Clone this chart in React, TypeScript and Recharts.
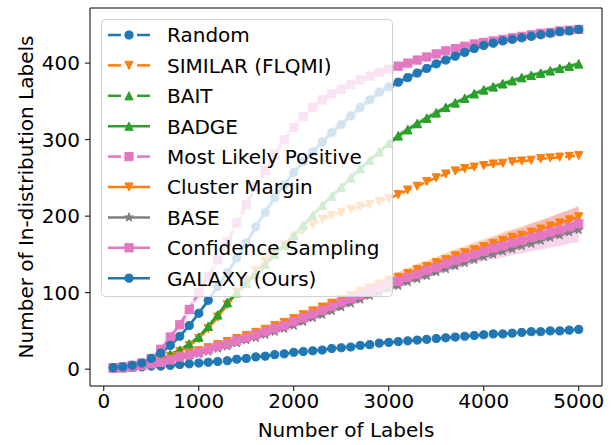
import { Area, ComposedChart, Label, Line, ReferenceLine, XAxis, YAxis } from "recharts";

// number of labels queried (x)
const labels = [
  100, 200, 300, 400, 500, 600, 700, 800, 900, 1000,
  1100, 1200, 1300, 1400, 1500, 1600, 1700, 1800, 1900, 2000,
  2100, 2200, 2300, 2400, 2500, 2600, 2700, 2800, 2900, 3000,
  3100, 3200, 3300, 3400, 3500, 3600, 3700, 3800, 3900, 4000,
  4100, 4200, 4300, 4400, 4500, 4600, 4700, 4800, 4900, 5000
];

const random = [
  2, 2, 3, 3, 4, 4, 5, 6, 7, 8,
  9, 10, 11, 13, 14, 16, 17, 19, 20, 22,
  23, 24, 25, 27, 28, 29, 31, 32, 34, 35,
  36, 37, 38, 39, 40, 41, 42, 43, 44, 45,
  46, 46, 47, 48, 49, 49, 50, 50, 51, 52
];
const similar = [
  1, 2, 3, 4, 7, 11, 17, 23, 31, 40,
  53, 68, 84, 100, 115, 129, 141, 152, 162, 172,
  181, 189, 196, 201, 205, 209, 212, 215, 219, 223,
  228, 234, 239, 245, 250, 255, 259, 262, 264, 266,
  268, 269, 271, 272, 273, 275, 276, 277, 278, 279
];
const bait = [
  1, 2, 3, 5, 8, 13, 19, 25, 33, 42,
  56, 71, 87, 100, 112, 124, 137, 150, 162, 175,
  188, 201, 214, 226, 238, 250, 262, 273, 284, 295,
  305, 313, 321, 328, 335, 342, 348, 354, 360, 365,
  369, 373, 377, 381, 384, 387, 390, 393, 396, 399
];
const badge = [
  1, 2, 3, 5, 8, 13, 19, 25, 33, 42,
  56, 71, 87, 100, 112, 124, 137, 150, 162, 175,
  188, 201, 214, 226, 238, 250, 262, 273, 284, 295,
  305, 313, 321, 328, 335, 342, 348, 354, 360, 365,
  369, 373, 377, 381, 384, 387, 390, 393, 396, 399
];
const mostLikely = [
  2, 3, 5, 8, 14, 26, 42, 58, 78, 100,
  121, 143, 166, 191, 215, 238, 260, 281, 300, 316,
  330, 342, 352, 360, 366, 372, 378, 383, 388, 392,
  396, 400, 404, 408, 412, 416, 419, 422, 425, 427,
  429, 431, 433, 435, 437, 439, 440, 442, 443, 444
];
const clusterMargin = [
  1, 2, 3, 5, 7, 10, 13, 17, 21, 24,
  28, 32, 36, 40, 44, 48, 52, 57, 61, 66,
  71, 76, 81, 86, 91, 96, 101, 106, 111, 116,
  120, 125, 130, 134, 139, 143, 148, 152, 156, 160,
  164, 168, 172, 175, 179, 183, 187, 191, 195, 199
];
const base = [
  1, 2, 3, 4, 6, 8, 11, 14, 17, 20,
  23, 27, 30, 34, 38, 41, 45, 49, 53, 57,
  62, 67, 71, 76, 81, 86, 91, 96, 100, 105,
  109, 114, 118, 122, 127, 131, 135, 139, 143, 147,
  150, 154, 157, 161, 164, 168, 172, 175, 179, 182
];
const confidence = [
  1, 2, 3, 5, 7, 9, 12, 16, 19, 22,
  26, 30, 33, 37, 41, 45, 49, 53, 57, 62,
  67, 72, 77, 82, 87, 92, 97, 102, 107, 111,
  115, 120, 124, 129, 133, 138, 142, 146, 150, 154,
  158, 161, 165, 168, 172, 175, 179, 182, 186, 190
];
const galaxy = [
  2, 3, 5, 8, 14, 21, 31, 43, 57, 73,
  90, 108, 126, 145, 165, 186, 205, 224, 241, 257,
  271, 284, 297, 309, 320, 331, 342, 352, 362, 369,
  375, 381, 387, 393, 399, 404, 409, 414, 419, 423,
  426, 429, 431, 433, 435, 437, 439, 441, 442, 444
];

// spread (std) around the means
const confidenceStd = [
  0, 0, 1, 1, 1, 1, 1, 2, 2, 2,
  2, 2, 3, 3, 3, 3, 3, 4, 4, 4,
  4, 5, 5, 5, 5, 6, 6, 6, 6, 7,
  7, 8, 8, 9, 10, 10, 11, 12, 12, 13,
  14, 15, 16, 17, 18, 19, 20, 21, 22, 24
];
const clusterMarginStd = [
  0, 0, 0, 1, 1, 1, 1, 1, 2, 2,
  2, 2, 2, 3, 3, 3, 3, 3, 4, 4,
  4, 4, 5, 5, 5, 5, 6, 6, 6, 7,
  7, 7, 8, 8, 8, 9, 9, 9, 10, 10,
  10, 11, 11, 11, 12, 12, 12, 13, 13, 13
];
const baseStd = [
  0, 0, 0, 0, 1, 1, 1, 1, 1, 1,
  1, 2, 2, 2, 2, 2, 2, 2, 2, 2,
  3, 3, 3, 3, 3, 3, 3, 3, 3, 3,
  3, 3, 3, 3, 3, 3, 3, 3, 3, 3,
  3, 3, 3, 3, 3, 3, 3, 3, 3, 3
];
const galaxyStd = [
  0, 0, 1, 1, 1, 2, 2, 3, 3, 3,
  4, 4, 4, 5, 5, 5, 5, 5, 5, 5,
  5, 5, 5, 5, 5, 5, 5, 5, 5, 5,
  4, 4, 4, 4, 4, 3, 3, 3, 3, 3,
  3, 3, 2, 2, 2, 2, 2, 2, 2, 2
];
const mostLikelyStd = [
  0, 0, 1, 1, 2, 3, 4, 5, 5, 6,
  6, 6, 6, 6, 6, 6, 6, 6, 6, 5,
  5, 5, 5, 5, 4, 4, 4, 4, 4, 4,
  3, 3, 3, 3, 3, 3, 3, 3, 3, 3,
  2, 2, 2, 2, 2, 2, 2, 2, 2, 2
];
const badgeStd = [
  0, 0, 0, 1, 1, 1, 2, 2, 2, 3,
  3, 3, 3, 4, 4, 4, 4, 4, 4, 4,
  4, 4, 4, 4, 4, 4, 4, 4, 4, 4,
  4, 4, 4, 4, 4, 3, 3, 3, 3, 3,
  3, 3, 3, 3, 3, 3, 3, 3, 3, 3
];

const xTicks = [0, 1000, 2000, 3000, 4000, 5000];
const yTicks = [0, 100, 200, 300, 400];

const BLUE = "#1f77b4";
const ORANGE = "#ff7f0e";
const GREEN = "#2ca02c";
const PINK = "#e377c2";
const GRAY = "#7f7f7f";
const FONT = "'DejaVu Sans', sans-serif";

type Shape = "circle" | "square" | "up" | "down" | "star";

const series: { key: string; name: string; values: number[]; color: string; shape: Shape; dashed: boolean }[] = [
  { key: "random", name: "Random", values: random, color: BLUE, shape: "circle", dashed: true },
  { key: "similar", name: "SIMILAR (FLQMI)", values: similar, color: ORANGE, shape: "down", dashed: true },
  { key: "bait", name: "BAIT", values: bait, color: GREEN, shape: "up", dashed: true },
  { key: "badge", name: "BADGE", values: badge, color: GREEN, shape: "up", dashed: false },
  { key: "mlp", name: "Most Likely Positive", values: mostLikely, color: PINK, shape: "square", dashed: true },
  { key: "cm", name: "Cluster Margin", values: clusterMargin, color: ORANGE, shape: "down", dashed: false },
  { key: "base", name: "BASE", values: base, color: GRAY, shape: "star", dashed: false },
  { key: "cs", name: "Confidence Sampling", values: confidence, color: PINK, shape: "square", dashed: false },
  { key: "galaxy", name: "GALAXY (Ours)", values: galaxy, color: BLUE, shape: "circle", dashed: false }
];

const bands = [
  { key: "badgeBand", mean: badge, std: badgeStd, color: GREEN },
  { key: "mlpBand", mean: mostLikely, std: mostLikelyStd, color: PINK },
  { key: "cmBand", mean: clusterMargin, std: clusterMarginStd, color: ORANGE },
  { key: "baseBand", mean: base, std: baseStd, color: GRAY },
  { key: "csBand", mean: confidence, std: confidenceStd, color: PINK },
  { key: "galaxyBand", mean: galaxy, std: galaxyStd, color: BLUE }
];

const rows = labels.map((x, i) => {
  const row: any = { x };
  series.forEach((s) => (row[s.key] = s.values[i]));
  bands.forEach((b) => (row[b.key] = [b.mean[i] - b.std[i], b.mean[i] + b.std[i]]));
  return row;
});

function Marker({ cx, cy, shape, color }: { cx: number; cy: number; shape: Shape; color: string }) {
  const r = 4.1;
  const common = { fill: color, stroke: color, strokeWidth: 1 };
  if (shape === "circle") return <circle cx={cx} cy={cy} r={r} {...common} />;
  if (shape === "square") return <rect x={cx - r} y={cy - r} width={2 * r} height={2 * r} {...common} />;
  if (shape === "up")
    return <polygon points={`${cx},${cy - r} ${cx - r},${cy + r} ${cx + r},${cy + r}`} {...common} />;
  if (shape === "down")
    return <polygon points={`${cx},${cy + r} ${cx - r},${cy - r} ${cx + r},${cy - r}`} {...common} />;
  const pts: string[] = [];
  for (let k = 0; k < 10; k++) {
    const rad = k % 2 === 0 ? r + 0.6 : (r + 0.6) * 0.382;
    const a = -Math.PI / 2 + (k * Math.PI) / 5;
    pts.push(`${cx + rad * Math.cos(a)},${cy + rad * Math.sin(a)}`);
  }
  return <polygon points={pts.join(" ")} {...common} />;
}

const dotFor = (shape: Shape, color: string, id: string) => (p: any) => {
  if (p.cx == null || p.cy == null) return <g key={`${id}-${p.index}`} />;
  return <Marker key={`${id}-${p.index}`} cx={p.cx} cy={p.cy} shape={shape} color={color} />;
};

function LegendBox() {
  const rowY = (i: number) => 16 + 30.4 * i;
  return (
    <svg
      width={292}
      height={278}
      style={{ position: "absolute", left: 101, top: 19, overflow: "visible" }}
    >
      <rect x={0.5} y={0.5} width={291} height={277} rx={4} fill="rgba(255,255,255,0.8)" stroke="#d0d0d0" />
      {series.map((s, i) => (
        <g key={s.key}>
          {s.dashed ? (
            <>
              <line x1={7} x2={20} y1={rowY(i)} y2={rowY(i)} stroke={s.color} strokeWidth={2.5} />
              <line x1={36} x2={49} y1={rowY(i)} y2={rowY(i)} stroke={s.color} strokeWidth={2.5} />
            </>
          ) : (
            <line x1={7} x2={49} y1={rowY(i)} y2={rowY(i)} stroke={s.color} strokeWidth={2.5} />
          )}
          <Marker cx={28} cy={rowY(i)} shape={s.shape} color={s.color} />
          <text x={66} y={rowY(i) + 7.3} fontSize={20} fontFamily={FONT} fill="#000">
            {s.name}
          </text>
        </g>
      ))}
    </svg>
  );
}

export default function App() {
  return (
    <div style={{ position: "absolute", left: 0, top: 0, width: 613, height: 445, background: "#fff" }}>
      <ComposedChart width={613} height={445} data={rows} margin={{ top: 8, right: 11, bottom: 0, left: 0 }}>
        <XAxis
          dataKey="x"
          type="number"
          domain={[-145, 5245]}
          ticks={xTicks}
          height={59}
          tickSize={5}
          tickMargin={3}
          stroke="#000"
          tick={{ fontSize: 20, fill: "#000", fontFamily: FONT }}
          allowDataOverflow
        >
          <Label
            content={() => (
              <text x={346} y={437} textAnchor="middle" fontSize={20} fontFamily={FONT} fill="#000">
                Number of Labels
              </text>
            )}
          />
        </XAxis>
        <YAxis
          type="number"
          domain={[-22, 472]}
          ticks={yTicks}
          width={90}
          tickSize={5}
          tickMargin={5}
          stroke="#000"
          tick={{ fontSize: 20, fill: "#000", fontFamily: FONT }}
          allowDataOverflow
        >
          <Label
            content={() => (
              <text
                x={33}
                y={197}
                transform="rotate(-90, 33, 197)"
                textAnchor="middle"
                fontSize={20}
                fontFamily={FONT}
                fill="#000"
              >
                Number of In-distribution Labels
              </text>
            )}
          />
        </YAxis>
        {bands.map((b) => (
          <Area
            key={b.key}
            dataKey={b.key}
            type="linear"
            stroke="none"
            fill={b.color}
            fillOpacity={0.3}
            isAnimationActive={false}
            activeDot={false}
          />
        ))}
        {series.map((s) => (
          <Line
            key={s.key}
            dataKey={s.key}
            type="linear"
            stroke={s.color}
            strokeWidth={2.5}
            strokeDasharray={s.dashed ? "10 4" : undefined}
            dot={dotFor(s.shape, s.color, s.key)}
            activeDot={false}
            isAnimationActive={false}
          />
        ))}
        <ReferenceLine y={472} stroke="#000" strokeWidth={1} />
        <ReferenceLine x={5245} stroke="#000" strokeWidth={1} />
      </ComposedChart>
      <LegendBox />
    </div>
  );
}
